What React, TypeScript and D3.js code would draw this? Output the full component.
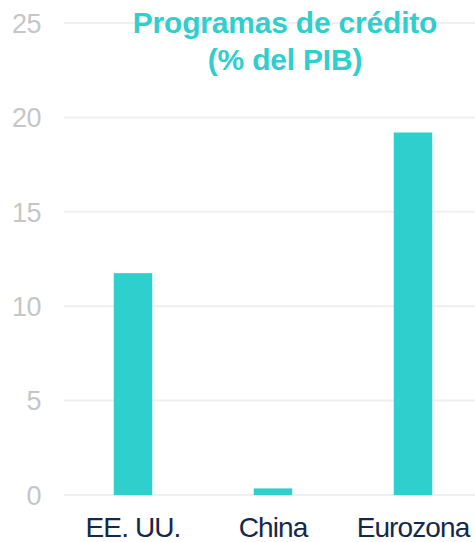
import { useEffect, useRef } from "react"
import * as d3 from "d3"

const categories = ["EE. UU.", "China", "Eurozona"]
const values = [11.75, 0.35, 19.2]
const yTicks = [0, 5, 10, 15, 20, 25]
const titleLines = ["Programas de crédito", "(% del PIB)"]

export default function App() {
    const ref = useRef<SVGSVGElement>(null)
    const width = 475, height = 542

    useEffect(() => {
        const svg = d3.select(ref.current)
        svg.selectAll("*").remove()

        const yScale = d3.scaleLinear().domain([0, 25]).range([495, 23])
        const xScale = d3.scaleBand<string>()
            .domain(categories)
            .range([63, 483])
            .paddingInner(0.725)
            .paddingOuter(0.3625)

        // grid lines
        svg.append("g")
            .selectAll("line")
            .data(yTicks)
            .join("line")
            .attr("x1", 64)
            .attr("x2", width)
            .attr("y1", (d) => yScale(d))
            .attr("y2", (d) => yScale(d))
            .attr("stroke", "#efefef")
            .attr("stroke-width", 2)

        // y tick labels
        svg.append("g")
            .selectAll("text")
            .data(yTicks)
            .join("text")
            .attr("x", 41)
            .attr("y", (d) => yScale(d))
            .attr("dy", "0.36em")
            .attr("text-anchor", "end")
            .attr("fill", "#c6c6c6")
            .style("font-family", "'Liberation Sans', Arial, sans-serif")
            .style("font-size", "27px")
            .style("letter-spacing", "-0.5px")
            .text((d) => d)

        // bars
        svg.append("g")
            .selectAll("rect")
            .data(values)
            .join("rect")
            .attr("x", (_, i) => xScale(categories[i])!)
            .attr("width", xScale.bandwidth())
            .attr("y", (d) => yScale(d))
            .attr("height", (d) => yScale(0) - yScale(d))
            .attr("fill", "#2ecfcc")

        // category labels
        svg.append("g")
            .selectAll("text")
            .data(categories)
            .join("text")
            .attr("x", (d) => xScale(d)! + xScale.bandwidth() / 2)
            .attr("y", 537)
            .attr("text-anchor", "middle")
            .attr("fill", "#14284b")
            .style("font-family", "'Liberation Sans', Arial, sans-serif")
            .style("font-size", "28px")
            .style("letter-spacing", "-0.9px")
            .text((d) => d)

        // title
        svg.append("text")
            .attr("x", 285)
            .attr("y", 33)
            .attr("text-anchor", "middle")
            .attr("fill", "#2ecfcc")
            .style("font-family", "'Liberation Sans', Arial, sans-serif")
            .style("font-size", "30px")
            .style("font-weight", "bold")
            .style("letter-spacing", "-0.2px")
            .selectAll("tspan")
            .data(titleLines)
            .join("tspan")
            .attr("x", 285)
            .attr("dy", (_, i) => (i === 0 ? 0 : 37))
            .text((d) => d)
    }, [])

    return (
        <svg
            ref={ref}
            width={width}
            height={height}
            style={{ position: "absolute", left: 0, top: 0, display: "block", background: "#fff" }}
        />
    )
}
